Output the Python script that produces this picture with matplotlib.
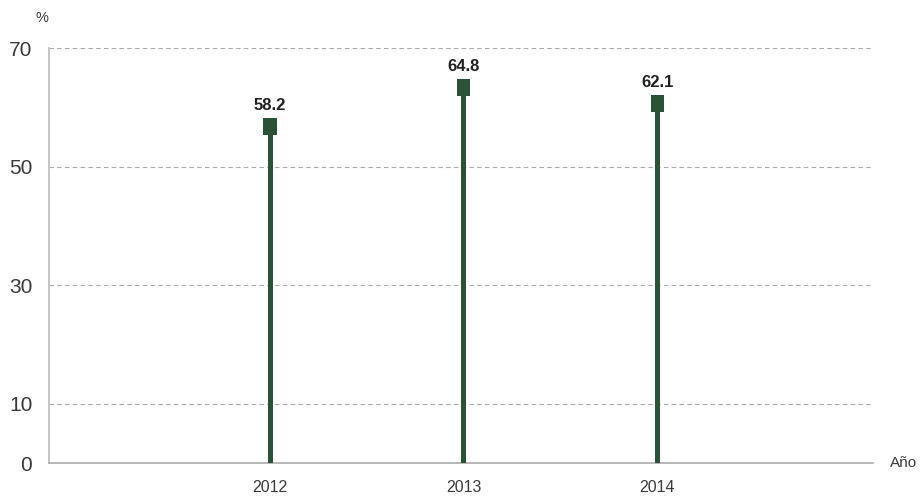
import matplotlib
matplotlib.use("Agg")
from matplotlib import pyplot as plt

years = ["2012", "2013", "2014"]
values = [58.2, 64.8, 62.1]
yticks = [0, 10, 30, 50, 70]

green = "#2b5234"
txt = "#3a3a3a"

fig = plt.figure(figsize=(9.24, 4.96), dpi=100)
ax = fig.add_axes([0.053, 0.0665, 0.892, 0.8365])

x = list(range(len(years)))
# stem from zero to the value, with a square cap whose top sits at the value
ax.bar(x, values, width=0.026, color=green, zorder=3)
cap = 2.9
ax.bar(x, [cap] * len(values), bottom=[v - cap for v in values], width=0.068,
       color=green, zorder=4)
for xi, v in zip(x, values):
    ax.text(xi, v + 0.9, f"{v:.1f}", ha="center", va="bottom", fontsize=12,
            fontweight="bold", color="#222222", family="Liberation Sans")

ax.set_xlim(-1.142, 3.116)
ax.set_ylim(0, 70)
ax.set_yticks(yticks)
ax.set_yticklabels([str(t) for t in yticks], fontsize=15, color=txt,
                   family="Liberation Sans")
ax.set_xticks(x)
ax.set_xticklabels(years, fontsize=11.5, color=txt, family="Liberation Sans")
ax.tick_params(axis="both", length=0)
ax.tick_params(axis="x", pad=12)
ax.tick_params(axis="y", pad=12)

for t in yticks[1:]:
    ax.axhline(t, color="#aaaaaa", linestyle=(0, (4, 3)), linewidth=0.8, zorder=1)

for s in ["top", "right"]:
    ax.spines[s].set_visible(False)
ax.spines["left"].set_color("#bbbbbb")
ax.spines["bottom"].set_color("#aaaaaa")
ax.spines["left"].set_linewidth(1.2)
ax.spines["bottom"].set_linewidth(1.2)

fig.text(42 / 924, 1 - 18 / 496, "%", fontsize=10.5, color=txt,
         ha="center", va="center", family="Liberation Sans")
fig.text(890 / 924, 1 - 463 / 496, "Año", fontsize=11, color=txt,
         ha="left", va="center", family="Liberation Sans")

fig.savefig("out.png", dpi=100)
